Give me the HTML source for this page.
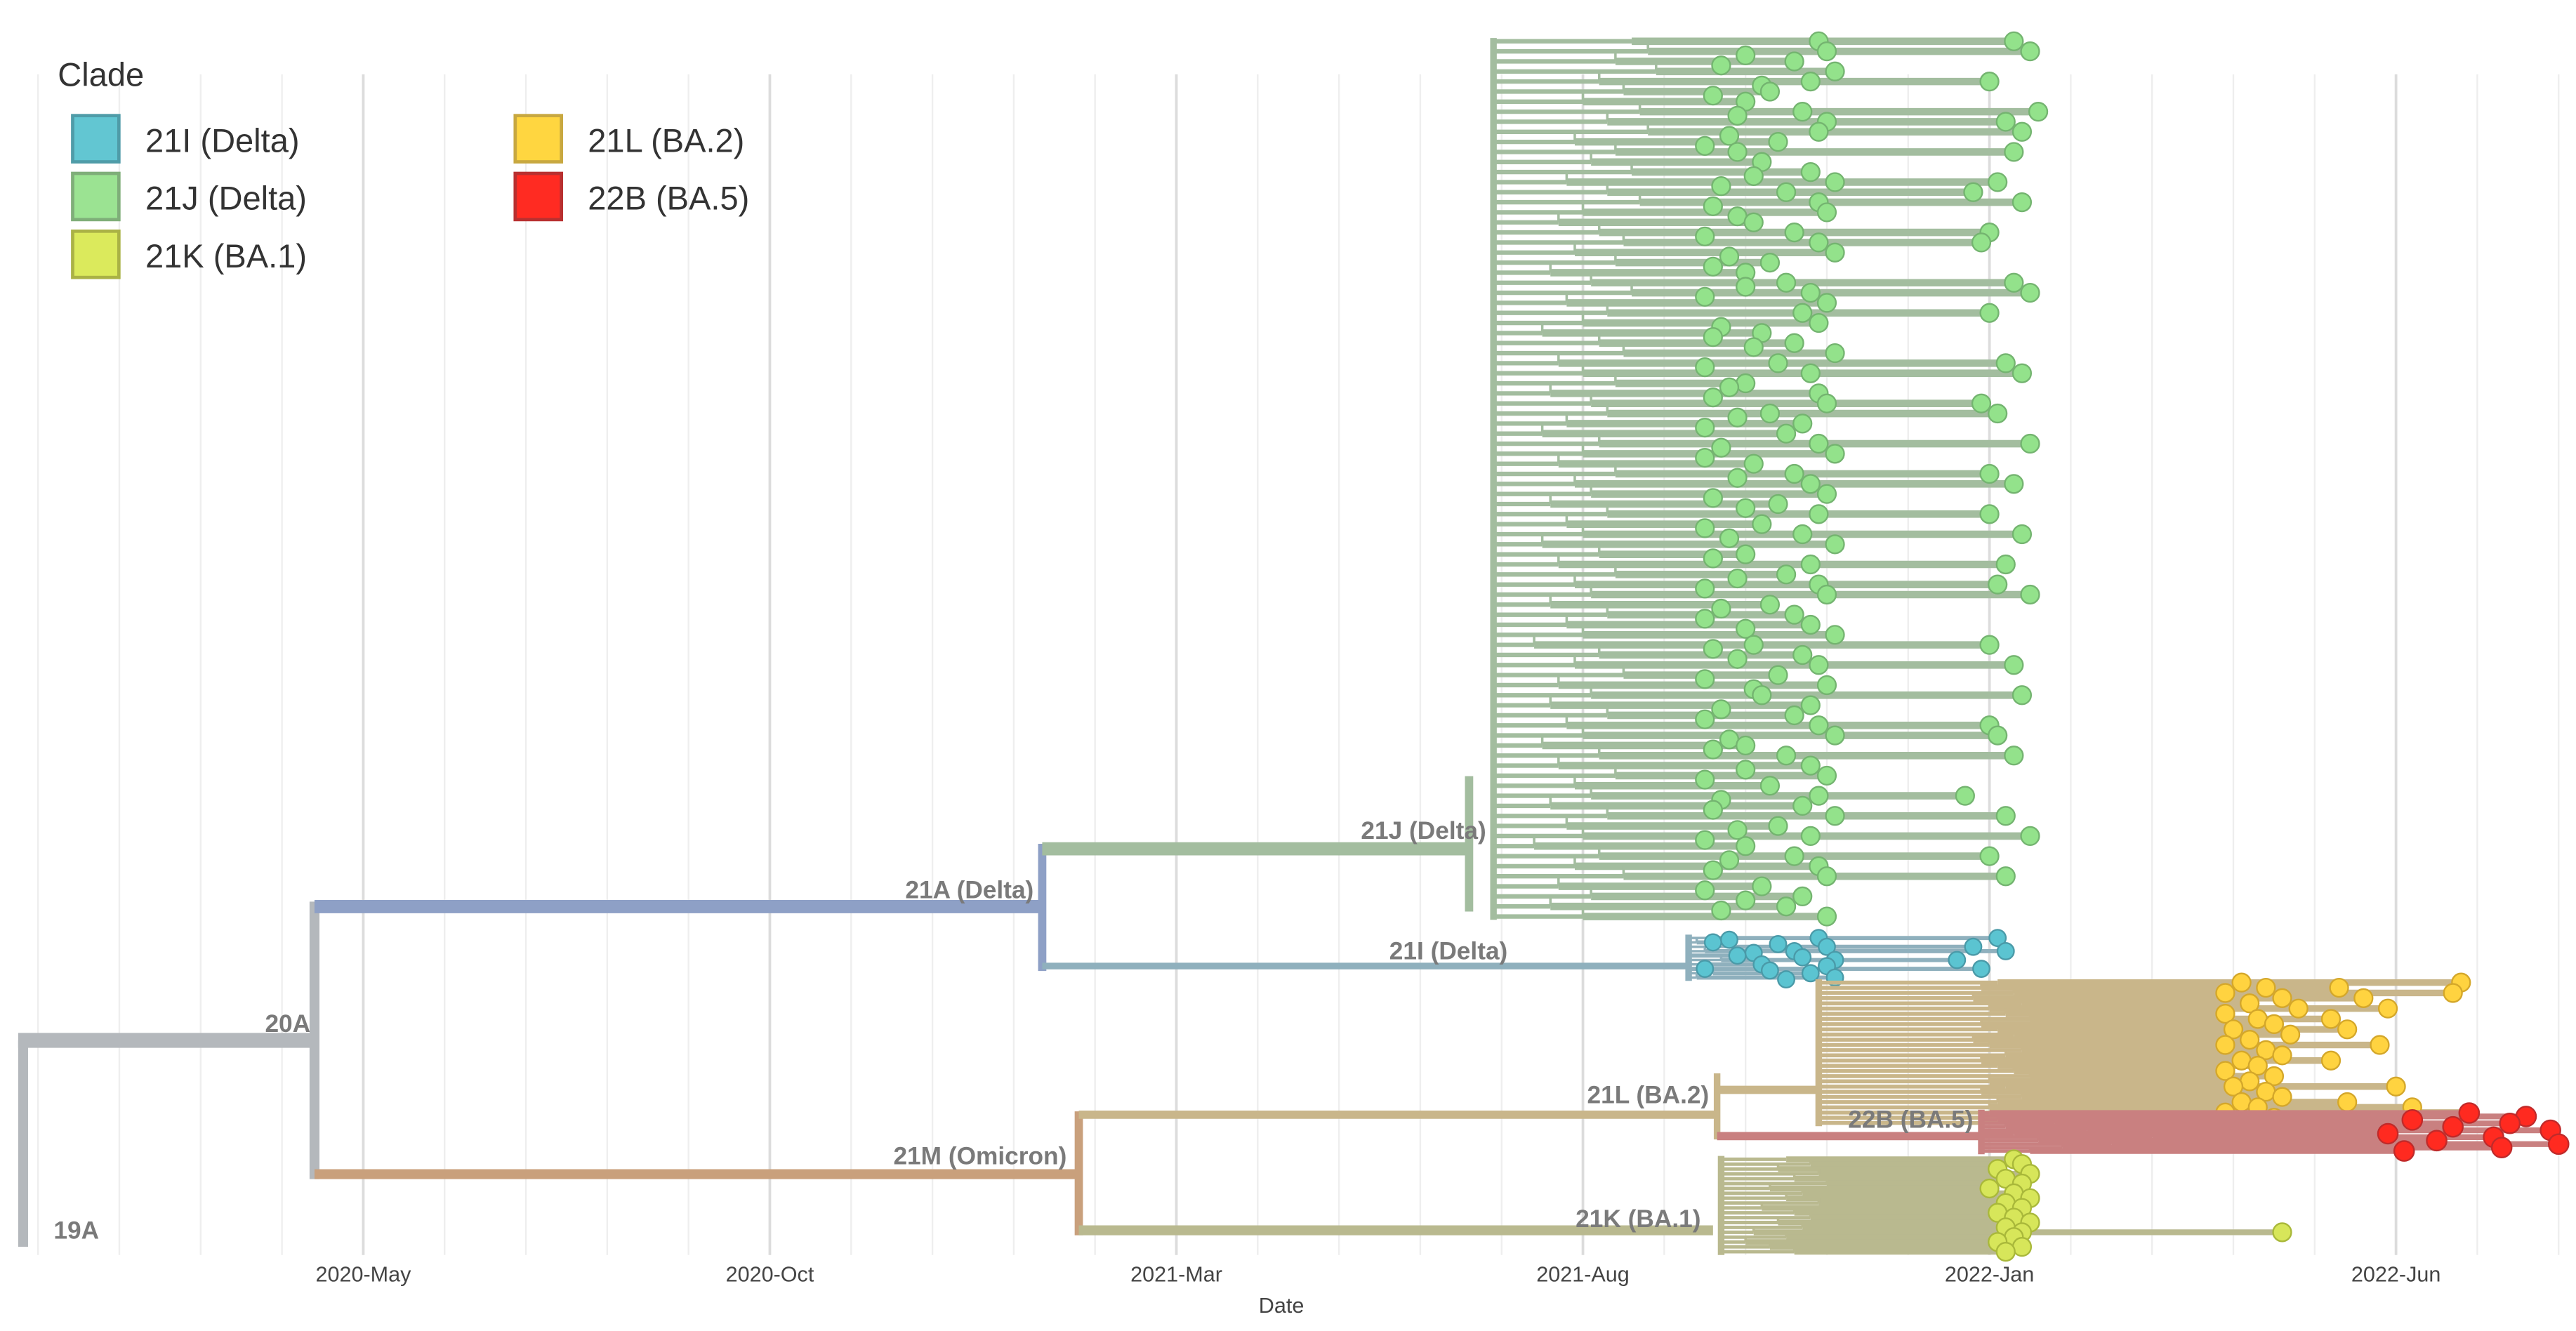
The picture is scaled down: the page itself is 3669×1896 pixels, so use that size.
<!DOCTYPE html>
<html><head><meta charset="utf-8"><style>
html,body{margin:0;padding:0;background:#fff;}
svg{display:block;font-family:"Liberation Sans",sans-serif;}
</style></head><body>
<svg id="chart" width="3669" height="1896" viewBox="0 0 1560 806" preserveAspectRatio="none" xmlns="http://www.w3.org/2000/svg">
<g id="grid"></g>
<g id="tree"></g>
<g id="axis"></g>
<g id="legend">
 <text x="35" y="52" font-size="20" fill="#333">Clade</text>
 <g><rect x="44" y="70" width="28" height="28" fill="#62c6d2" stroke="#4f9ca8" stroke-width="2"/><text x="88" y="92" font-size="20" fill="#333">21I (Delta)</text></g>
 <g><rect x="44" y="105" width="28" height="28" fill="#9be392" stroke="#7fae79" stroke-width="2"/><text x="88" y="127" font-size="20" fill="#333">21J (Delta)</text></g>
 <g><rect x="44" y="140" width="28" height="28" fill="#dbea5c" stroke="#aab245" stroke-width="2"/><text x="88" y="162" font-size="20" fill="#333">21K (BA.1)</text></g>
 <g><rect x="312" y="70" width="28" height="28" fill="#ffd640" stroke="#c8a840" stroke-width="2"/><text x="356" y="92" font-size="20" fill="#333">21L (BA.2)</text></g>
 <g><rect x="312" y="105" width="28" height="28" fill="#ff2b22" stroke="#b83030" stroke-width="2"/><text x="356" y="127" font-size="20" fill="#333">22B (BA.5)</text></g>
</g>
</svg>
<script>
// months since 2020-Jan
const tickLabels=["2020-May","2020-Oct","2021-Mar","2021-Aug","2022-Jan","2022-Jun"];
const tickMonths=[4,9,14,19,24,29];
const j21Tips=[21.9,22.0,21.6,22.1,21.8,21.3,21.0,21.7,22.0,21.9,21.4,20.9,21.2,21.8,22.1,21.5,21.9,22.0,21.1,21.6,21.9,22.1,21.3,21.0,21.5,21.8,22.0,21.7,21.9,21.2,21.6,22.1,21.4,21.8,21.0,21.9,22.0,21.3,21.7,21.5,21.9,22.1,21.1,21.6,21.8,22.0,21.4,21.9,21.2,21.7,22.1,21.0,21.8,21.5,21.9,22.0,21.3,21.6,21.8,22.1,21.1,21.7,21.9,21.4,22.0,21.2,21.8,21.6,21.9,22.1,21.0,21.5,21.8,22.0,21.3,21.9,21.7,22.1,21.4,21.8,21.0,21.6,21.9,22.0,21.2,21.7,21.5,22.0];
const j21Mid=[0,21.0,20.7,0,21.2,20.6,0,20.9,0,20.8,20.5,0,0,21.1,20.7,0,20.6,20.9,0,20.5,0,20.8,20.6,0,21.0,20.5,0,0,20.7,20.6,21.1,0,20.5,0,20.8,20.6,0,20.9,20.5,0,20.7,20.5,0,20.9,0,20.6,21.0,0,20.5,20.8,0,20.6,0,20.9,20.5,0,20.7,20.5,21.0,0,20.6,20.9,0,20.5,21.1,0,20.7,20.5,0,20.8,20.6,0,21.0,20.5,0,20.7,20.6,0,20.9,20.5,0,20.8,20.6,0,20.5,21.0,20.7,0];
const j21Late=[24.3,24.5,0,0,24.0,0,0,24.6,24.2,24.4,0,24.3,0,0,24.1,23.8,24.4,0,0,24.0,23.9,0,0,0,24.3,24.5,0,24.0,0,0,0,0,24.2,24.4,0,0,23.9,24.1,0,0,24.5,0,0,24.0,24.3,0,0,24.0,0,24.4,0,0,24.2,0,24.1,24.5,0,0,0,0,24.0,0,24.3,0,0,24.4,0,0,24.0,24.1,0,24.3,0,0,0,23.7,0,24.2,0,24.5,0,24.0,0,24.2,0,0,0,0];
const j21Stems=[19.6,19.8,19.4,19.9,19.2,19.5,19.0,19.7,19.3,19.8,18.9,19.4,19.1,19.6,18.8,19.3,19.7,19.0,18.7,19.2,19.5,18.9,19.4,18.6,19.1,19.6,18.8,19.3,19.0,18.5,19.2,19.5,18.7,19.0,19.4,18.6,19.1,19.3,18.8,18.5,19.2,19.0,18.7,19.4,18.9,19.1,18.6,19.3,18.8,19.0,18.5,19.2,18.7,19.4,18.9,19.1,18.6,19.3,18.8,19.0,18.4,19.2,18.9,19.5,18.7,19.1,18.6,19.3,18.8,19.0,18.5,19.2,18.7,19.4,18.9,19.1,18.6,19.3,18.8,19.0,18.4,19.2,18.9,19.5,18.7,19.1,18.6,19.0];
const i21Tips=[21.9,20.6,22.0,21.6,20.9,22.1,21.2,20.5,21.8,22.1];
const i21Mid=[20.8,21.4,0,21.1,21.7,0,22.0,21.3,0,21.5];
const i21Late=[24.1,0,23.8,24.2,0,23.6,0,23.9,0,0];
const i21Stems=[20.6,20.4,20.8,20.5,20.3,20.7,20.5,20.3,20.6,20.4];
const ba2Tips=[27.1,27.4,26.9,27.6,27.2,27.8,26.9,27.3,27.5,27.0,27.7,27.2,26.9,27.4,27.6,27.1,27.3,26.9,27.5,27.2,27.0,27.4,27.6,27.1,27.3,26.9,27.5,27.2];
const ba2Late=[29.8,28.3,29.7,28.6,0,28.9,0,28.2,0,28.4,0,0,28.8,0,0,28.2,0,0,0,0,29.0,0,0,28.4,29.2,29.9,0,28.5];
const ba2Stems=[24.1,23.9,24.3,23.8,24.4,24.0,24.2,24.5,23.9,24.1,24.3,23.8,24.0,24.4,24.2,23.9,24.1,24.3,24.5,24.0,24.2,23.9,24.4,24.1,24.0,24.3,23.9,24.2];
const ba5Tips=[29.9,30.6,29.2,30.4,29.7,30.9,28.9,30.2,29.5,31.0,30.3,29.1];
const ba5Stems=[24.0,24.4,24.1,24.8,24.2,25.2,24.3,26.0,24.6,25.5,24.9,24.5];
const ba1Tips=[24.3,24.4,24.1,24.5,24.2,24.4,24.0,24.3,24.5,24.2,24.4,24.1,24.3,24.5,24.2,24.4,24.3,24.1,24.4,24.2];
const ba1Late=[0,0,0,0,0,0,0,0,0,0,0,0,0,0,0,27.6,0,0,0,0];
const ba1Stems=[21.5,21.8,21.4,21.9,21.6,22.0,21.3,21.7,21.5,21.9,21.2,21.6,21.8,21.4,21.7,21.1,21.5,21.0,21.3,21.6];

const NS="http://www.w3.org/2000/svg";
function X(m){return 220+(m-4)*49.24;}
const grid=document.getElementById('grid'),tree=document.getElementById('tree'),axis=document.getElementById('axis');
function mk(tag,attrs,parent){const e=document.createElementNS(NS,tag);for(const k in attrs)e.setAttribute(k,attrs[k]);parent.appendChild(e);return e;}
for(let m=0;m<=31;m++){
  const major=(m%5===4);
  const g=mk('line',{x1:X(m),x2:X(m),y1:45,y2:760,stroke:major?'#dcdcdc':'#eeeeee','stroke-width':major?1.6:1},grid);
  
  
}
tickMonths.forEach((m,i)=>{
  const t=mk('text',{x:X(m),y:776,'font-size':13,'text-anchor':'middle',fill:'#444'},axis);
  t.textContent=tickLabels[i];
  
  
});
const xt=mk('text',{x:776,y:795,'font-size':13,'text-anchor':'middle',fill:'#444'},axis);xt.textContent='Date';



function seg(x1,y1,x2,y2,c,w,name){const l=mk('line',{x1,y1,x2,y2,stroke:c,'stroke-width':w,'stroke-linecap':'butt'},tree);
  
  return l;}
function label(x,y,t,name){const e=mk('text',{x,y,'font-size':15,'font-weight':'bold',fill:'#7a7a7a','text-anchor':'end'},tree);e.textContent=t;
  
  }

const gray='#b4b8bc';
const n21A=12.35,n21M=12.8,n21J=17.6;
seg(14,630,14,755,gray,6,'branch-19a');
seg(11,630,X(3.4),630,gray,9,'branch-20a');
seg(X(3.4),546,X(3.4),714,gray,6,'node-20a');
seg(X(3.4),549,X(n21A),549,'#8ea0c6',8,'branch-21a');
seg(X(n21A),511,X(n21A),588,'#8ea0c6',5,'node-21a');
seg(X(n21A),514,X(n21J),514,'#a3bd9f',8,'branch-21j');
seg(X(n21A),585,X(20.3),585,'#8fb0bd',4,'branch-21i');
seg(X(3.4),711,X(n21M),711,'#c9a07c',6,'branch-21m');
seg(X(n21M),673,X(n21M),748,'#c9a07c',5,'node-21m');
seg(X(n21M),675,X(20.65),675,'#c9b68a',5,'branch-21l');
seg(X(20.65),650,X(20.65),690,'#c9b68a',4,'node-21l');
seg(X(20.65),660,X(21.9),660,'#c9b68a',5,'branch-21l-sub');
seg(X(20.65),688,X(23.9),688,'#c98080',5,'branch-22b');
seg(X(n21M),745,X(20.6),745,'#b9b98f',6,'branch-21k');

function clade(stems,tips,mid,late,y0,y1,trunkX,bc,fill,stroke,w,r,name){
  const n=tips.length,dy=(y1-y0)/Math.max(1,n-1);
  seg(X(trunkX),y0-2,X(trunkX),y1+2,bc,4,name+'-trunk');
  const dots=[];
  for(let i=0;i<n;i++){
    const y=y0+i*dy;
    seg(X(trunkX),y,X(stems[i]),y,bc,w*0.6,name+'-stem');
    const end=late&&late[i]?late[i]:tips[i];
    seg(X(stems[i]),y,X(end),y,bc,w,name+'-branch');
    if(i>0)seg(X(stems[i]),y-dy,X(stems[i]),y,bc,1.5,name+'-connector');
    dots.push([tips[i],y]);
    if(mid&&mid[i])dots.push([mid[i],y+dy*0.4]);
    if(late&&late[i])dots.push([late[i],y]);
  }
  dots.forEach(d=>{const c=mk('circle',{cx:X(d[0]),cy:d[1],r:r,fill:fill,stroke:stroke,'stroke-width':1},tree);
    
    });
}
seg(X(n21J),470,X(n21J),552,'#a3bd9f',5,'node-21j');
clade(j21Stems,j21Tips,j21Mid,j21Late,25,555,17.9,'#a3bd9f','#93e28b','#74b470',4.5,5.5,'clade-21j');
clade(i21Stems,i21Tips,i21Mid,i21Late,568,592,20.3,'#8fb0bd','#5bc4d1','#4a9aa8',2.5,5,'clade-21i');
clade(ba2Stems,ba2Tips,null,ba2Late,595,680,21.9,'#c9b68a','#ffd340','#d4a72a',4,5.5,'clade-21l');
clade(ba5Stems,ba5Tips,null,null,674,697,23.9,'#c98080','#ff2a20','#c02a2a',3.5,6,'clade-22b');
clade(ba1Stems,ba1Tips,null,ba1Late,702,758,20.7,'#b9b98f','#d7e65a','#a9b83a',3.5,5.5,'clade-21k');

label(60,750,'19A','label-19a');
label(188,625,'20A','label-20a');
label(626,544,'21A (Delta)','label-21a');
label(900,508,'21J (Delta)','label-21j');
label(913,581,'21I (Delta)','label-21i');
label(646,705,'21M (Omicron)','label-21m');
label(1035,668,'21L (BA.2)','label-21l');
label(1195,683,'22B (BA.5)','label-22b');
label(1030,743,'21K (BA.1)','label-21k');
</script>
</body></html>
